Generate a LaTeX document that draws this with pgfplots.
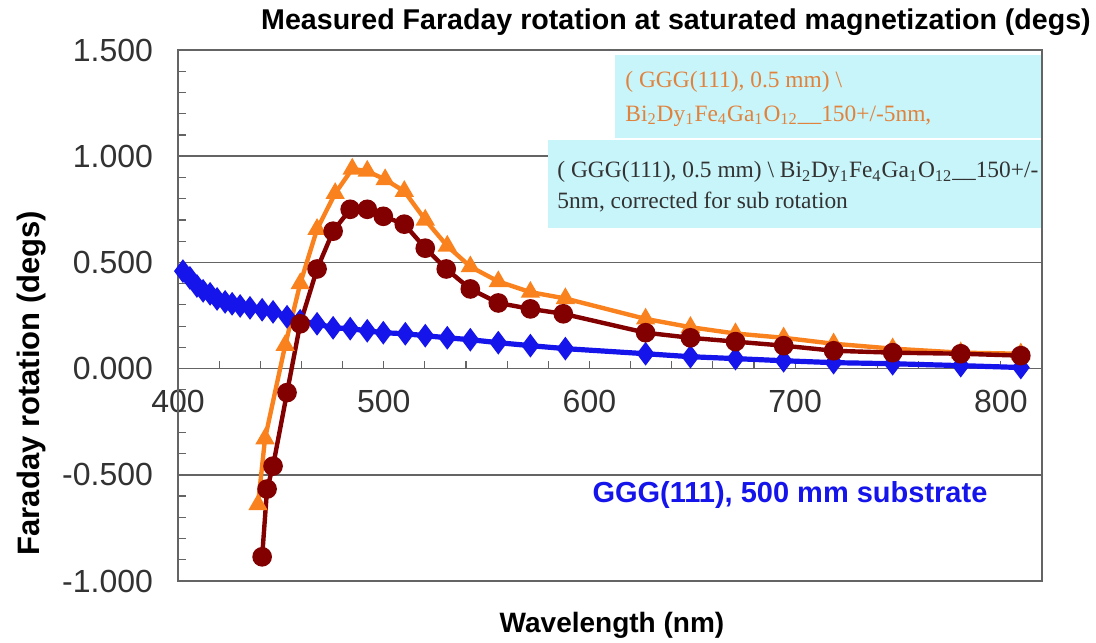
\documentclass[border=0pt]{standalone}
\usepackage{fontspec}
\setmainfont{Liberation Sans}
\newfontfamily\seriffont{Liberation Serif}
\usepackage{pgfplots}
\pgfplotsset{compat=1.18}
\definecolor{myblue}{RGB}{20,20,235}
\definecolor{myred}{RGB}{130,0,0}
\definecolor{myorange}{RGB}{250,130,30}
\definecolor{boxcyan}{RGB}{200,245,250}
\definecolor{orangetext}{RGB}{225,130,60}
\definecolor{gridgray}{RGB}{100,100,100}
\definecolor{textgray}{RGB}{50,50,50}

\pgfplotstableread{
x y
402.4 0.459
405.8 0.427
409.2 0.389
412.2 0.366
415.6 0.352
419.0 0.328
422.9 0.314
426.3 0.305
430.2 0.295
435.0 0.286
440.9 0.277
446.2 0.267
453.0 0.244
459.4 0.225
467.6 0.211
475.4 0.192
483.7 0.188
492.0 0.178
499.8 0.169
510.5 0.164
520.2 0.155
530.9 0.145
542.1 0.136
555.7 0.122
571.3 0.108
588.3 0.094
627.3 0.070
649.1 0.056
671.0 0.047
694.4 0.037
718.7 0.028
747.4 0.023
780.5 0.014
809.7 0.005
}\bluedata

\pgfplotstableread{
x y
440.9 -0.886
443.3 -0.567
446.2 -0.459
453.0 -0.113
459.4 0.211
467.6 0.469
475.4 0.647
483.7 0.750
492.0 0.750
499.8 0.717
510.0 0.680
520.2 0.567
530.4 0.469
542.1 0.375
555.7 0.309
571.3 0.281
587.3 0.258
627.3 0.169
649.1 0.145
671.0 0.127
694.4 0.108
718.7 0.084
747.4 0.075
780.5 0.070
809.7 0.061
}\reddata

\pgfplotstableread{
x y
438.9 -0.64
442.3 -0.33
452.1 0.11
459.4 0.40
467.6 0.656
476.4 0.825
484.7 0.94
492.0 0.93
500.7 0.89
510.0 0.835
520.2 0.70
530.9 0.577
542.1 0.48
555.7 0.41
571.3 0.36
588.3 0.33
627.3 0.234
649.1 0.195
671.0 0.165
694.4 0.145
718.7 0.117
747.4 0.094
780.5 0.075
809.7 0.070
}\orangedata

\begin{document}
\begin{tikzpicture}
\begin{axis}[
  scale only axis, width=432pt, height=265.5pt,
  xmin=400, xmax=820, ymin=-1, ymax=1.5,
  axis x line=middle, axis y line=left,
  axis line style={-, draw=gridgray, line width=0.8pt},
  xtick={400,500,600,700,800},
  minor x tick num=4,
  ytick={-1,-0.5,0,0.5,1,1.5}, minor y tick num=4,
  ymajorgrids, major grid style={draw=gridgray, line width=0.8pt},
  tick align=inside,
  major tick length=4pt, minor tick length=4pt,
  tick style={draw=gridgray, line width=0.6pt},
  hide obscured x ticks=false,
  ticklabel style={font=\fontsize{16}{19}\selectfont, text=textgray},
  /pgf/number format/assume math mode=true,
  y tick label style={/pgf/number format/fixed, /pgf/number format/fixed zerofill, /pgf/number format/precision=3, xshift=-9pt},
  x tick label style={yshift=-7pt},
  clip=false,
]
\addplot[myblue, line width=2.6pt, mark=diamond*, mark size=3.8pt, mark options={solid}] table[x=x,y=y] {\bluedata};
\addplot[myorange, line width=2.2pt, mark=triangle*, mark size=3.4pt, mark options={solid}] table[x=x,y=y] {\orangedata};
\addplot[myred, line width=2.2pt, mark=*, mark size=3.8pt, mark options={solid}] table[x=x,y=y] {\reddata};

\draw[gridgray, line width=0.8pt] (rel axis cs:0,0) rectangle (rel axis cs:1,1);

\fill[boxcyan] (rel axis cs:0.5058,0.8343) rectangle (rel axis cs:1.0,0.9906);
\fill[boxcyan] (rel axis cs:0.4282,0.6648) rectangle (rel axis cs:1.0,0.8305);
\draw[gridgray, line width=0.8pt] (rel axis cs:1,0.6) -- (rel axis cs:1,1);

\node[anchor=west, inner sep=0, text=orangetext, font=\seriffont\fontsize{11.7}{14}\selectfont] at (rel axis cs:0.5174,0.9397) {( GGG(111), 0.5 mm) \textbackslash};
\node[anchor=west, inner sep=0, text=orangetext, font=\seriffont\fontsize{11.7}{14}\selectfont] at (rel axis cs:0.5174,0.8757) {Bi\textsubscript{2}Dy\textsubscript{1}Fe\textsubscript{4}Ga\textsubscript{1}O\textsubscript{12}\_\_150+/-5nm,};
\node[anchor=west, inner sep=0, text=textgray, font=\seriffont\fontsize{11.7}{14}\selectfont] at (rel axis cs:0.4387,0.7702) {( GGG(111), 0.5 mm) \textbackslash{} Bi\textsubscript{2}Dy\textsubscript{1}Fe\textsubscript{4}Ga\textsubscript{1}O\textsubscript{12}\_\_150+/-};
\node[anchor=west, inner sep=0, text=textgray, font=\seriffont\fontsize{11.7}{14}\selectfont] at (rel axis cs:0.4387,0.7137) {5nm, corrected for sub rotation};

\node[text=myblue, font=\bfseries\fontsize{14.5}{17}\selectfont] at (rel axis cs:0.7083,0.1620) {GGG(111), 500 mm substrate};
\node[font=\bfseries\fontsize{14.3}{17}\selectfont] at (rel axis cs:0.5764,1.0527) {Measured Faraday rotation at saturated magnetization (degs)};
\node[font=\bfseries\fontsize{14}{17}\selectfont] at (rel axis cs:0.5023,-0.0829) {Wavelength (nm)};
\node[font=\bfseries\fontsize{15.5}{18}\selectfont, rotate=90] at (rel axis cs:-0.169,0.3729) {Faraday rotation (degs)};

\coordinate (bl) at (rel axis cs:0,0);
\coordinate (tr) at (rel axis cs:1,1);
\end{axis}
\pgfresetboundingbox
\path[use as bounding box] ([shift={(-89pt,-30.5pt)}]bl) rectangle ([shift={(27pt,25pt)}]tr);
\end{tikzpicture}
\end{document}
